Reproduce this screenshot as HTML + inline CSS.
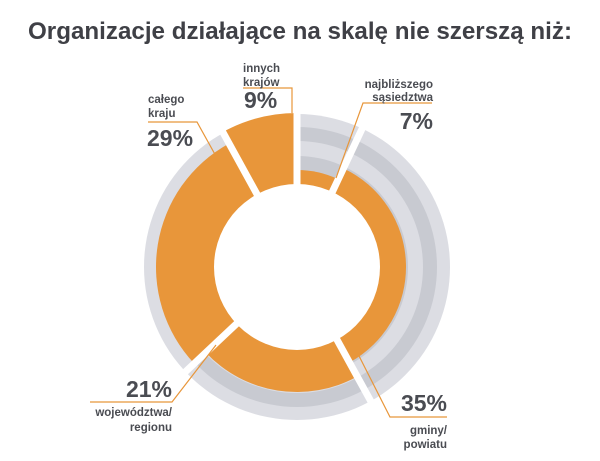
<!DOCTYPE html>
<html><head><meta charset="utf-8"><style>
html,body{margin:0;padding:0;background:#fff;width:600px;height:461px;overflow:hidden}
svg{display:block}
text{font-family:"Liberation Sans",sans-serif;font-weight:bold;fill:#4a4c52}
.s{font-size:11.5px}
.p{font-size:23px}
</style></head><body>
<svg id="c" width="600" height="461" viewBox="0 0 600 461">
<text x="300" y="39" text-anchor="middle" textLength="544" lengthAdjust="spacingAndGlyphs" style="font-size:24px;fill:#3f4046">Organizacje działające na skalę nie szerszą niż:</text>
<g id="rings">
<circle cx="297" cy="267" r="153" fill="#dcdde3"/>
<circle cx="297" cy="267" r="140" fill="#c8cad1"/>
<circle cx="297" cy="267" r="126" fill="#dcdde3"/>
<circle cx="297" cy="267" r="111" fill="#c8cad1"/>
</g>
<g id="segs"></g>
<circle cx="297" cy="267" r="83" fill="#fff"/>
<g id="gaps"></g>
<g fill="none" stroke="#e8963a" stroke-width="1.2">
<polyline points="243,88 292,88 292,113"/>
<polyline points="148,122 197,122 232,185"/>
<polyline points="432,103 363,103 336,178"/>
<polyline points="90,402 172,402 216,345"/>
<polyline points="447,417 390,417 357,352"/>
</g>
<text class="s" x="243" y="72">innych</text>
<text class="s" x="243" y="86">krajów</text>
<text class="p" x="244" y="108">9%</text>
<text class="s" x="148" y="103">całego</text>
<text class="s" x="148" y="117">kraju</text>
<text class="p" x="147" y="146">29%</text>
<text class="s" x="433" y="88" text-anchor="end">najbliższego</text>
<text class="s" x="433" y="101" text-anchor="end">sąsiedztwa</text>
<text class="p" x="433" y="129" text-anchor="end">7%</text>
<text class="p" x="172" y="397" text-anchor="end">21%</text>
<text class="s" x="172" y="416" text-anchor="end">województwa/</text>
<text class="s" x="172" y="431" text-anchor="end">regionu</text>
<text class="p" x="447" y="411" text-anchor="end">35%</text>
<text class="s" x="447" y="434" text-anchor="end">gminy/</text>
<text class="s" x="447" y="448" text-anchor="end">powiatu</text>
</svg>
<script>
var cx=297,cy=267,ns="http://www.w3.org/2000/svg";
function pt(a,r){var t=a*Math.PI/180;return [cx+r*Math.sin(t),cy-r*Math.cos(t)];}
var segs=[[0,25.2,97],[25.2,151.2,109],[151.2,226.8,125],[226.8,331.2,141],[331.2,360,154]];
var g=document.getElementById('segs');
segs.forEach(function(s){
 var a=pt(s[0],s[2]),b=pt(s[1],s[2]),la=(s[1]-s[0])>180?1:0;
 var p=document.createElementNS(ns,'path');
 p.setAttribute('d','M'+cx+','+cy+'L'+a[0]+','+a[1]+'A'+s[2]+','+s[2]+' 0 '+la+' 1 '+b[0]+','+b[1]+'Z');
 p.setAttribute('fill','#e8963a');g.appendChild(p);
});
var gg=document.getElementById('gaps');
[0,25.2,151.2,226.8,331.2].forEach(function(a){
 var p1=pt(a,75),p2=pt(a,162);
 var l=document.createElementNS(ns,'line');
 l.setAttribute('x1',p1[0]);l.setAttribute('y1',p1[1]);l.setAttribute('x2',p2[0]);l.setAttribute('y2',p2[1]);
 l.setAttribute('stroke','#fff');l.setAttribute('stroke-width','7');gg.appendChild(l);
});
</script>
</body></html>
